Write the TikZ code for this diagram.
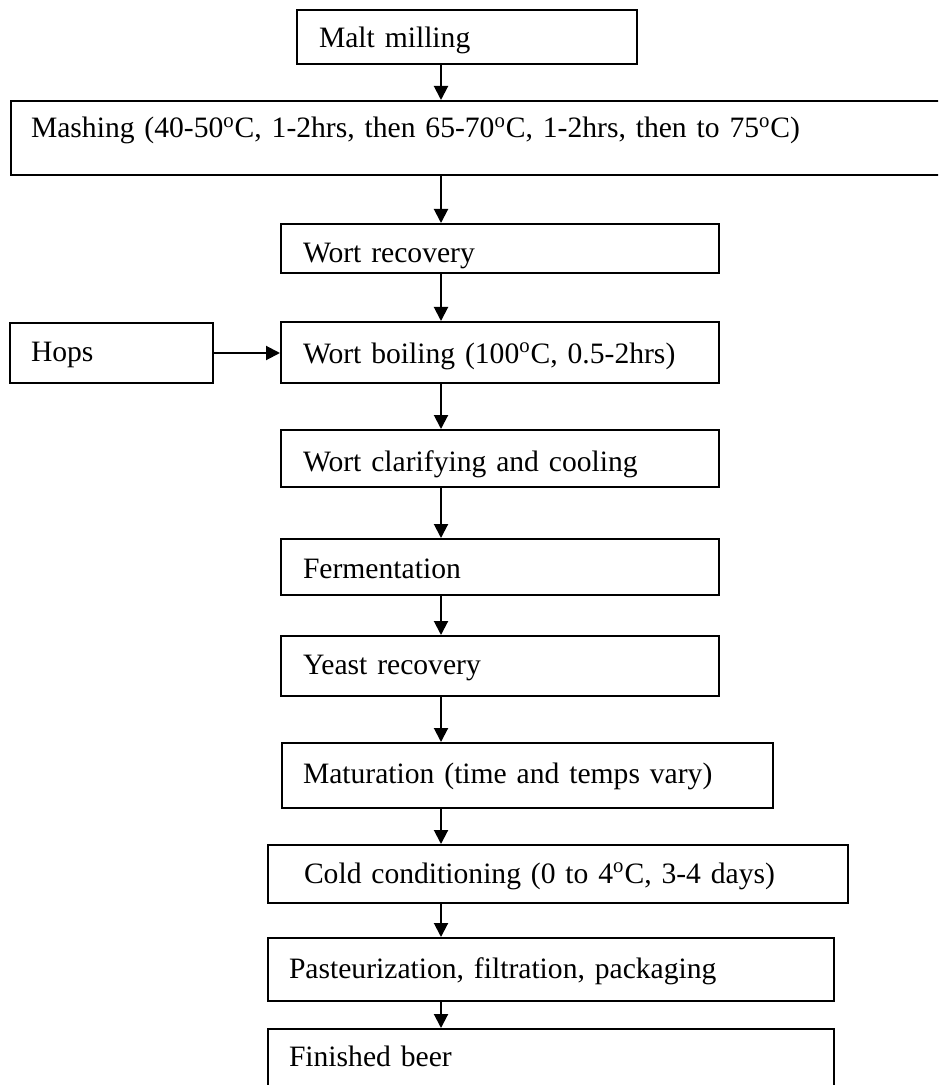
\documentclass[tikz,border=0pt]{standalone}
\usepackage{fontspec}
\setmainfont{Liberation Serif}
\usetikzlibrary{positioning, arrows.meta}
\tikzset{
  % process step = plain box, text set left and high
  stage/.style={draw, line width=1pt, anchor=north west, align=left,
                inner xsep=11pt, inner ysep=0pt,
                font=\fontsize{14.8}{17}\selectfont},
  % downward flow arrow
  flow/.style={-{Triangle[length=7pt,width=7pt]}, line width=1pt},
}
\newcommand{\degC}{\textsuperscript{o}C}

\begin{document}
\begin{tikzpicture}[x=0.5pt, y=-0.5pt]
  \path[use as bounding box, clip] (0,0) rectangle (938,1085);
  \coordinate (spine) at (441,0);
  % steps
  \node[stage, text width=148pt, text height=19pt, text depth=8pt]
    (malt) at (296,9) {Malt milling};
  \node[stage, inner xsep=10pt, text width=480pt, text height=18.5pt, text depth=18.5pt]
    (mash) at (10,100) {Mashing (40-50\degC, 1-2hrs, then 65-70\degC, 1-2hrs, then to 75\degC)};
  \node[stage, text width=197pt, text height=19.5pt, text depth=5pt]
    (recov) at (280,223) {Wort recovery};
  \node[stage, text width=197pt, text height=20.5pt, text depth=10pt]
    (boil) at (280,321) {Wort boiling (100\degC, 0.5-2hrs)};
  \node[stage, inner xsep=10.5pt, text width=80.5pt, text height=19pt, text depth=11pt]
    (hops) at (9,322) {Hops};
  \node[stage, text width=197pt, text height=20.5pt, text depth=8pt]
    (clarif) at (280,429) {Wort clarifying and cooling};
  \node[stage, text width=197pt, text height=19.5pt, text depth=8.5pt]
    (ferm) at (280,538) {Fermentation};
  \node[stage, text width=197pt, text height=19pt, text depth=11pt]
    (yeast) at (280,635) {Yeast recovery};
  \node[stage, inner xsep=10.5pt, text width=224.5pt, text height=20pt, text depth=12.5pt]
    (matur) at (281,742) {Maturation (time and temps vary)};
  \node[stage, inner xsep=18pt, text width=254pt, text height=19pt, text depth=10pt]
    (cold) at (267,844) {Cold conditioning (0 to 4\degC, 3-4 days)};
  \node[stage, inner xsep=10.5pt, text width=262pt, text height=20pt, text depth=11.5pt]
    (past) at (267,937) {Pasteurization, filtration, packaging};
  \node[stage, inner xsep=10.5pt, text width=262pt, text height=18.5pt, text depth=18pt]
    (beer) at (267,1028) {Finished beer};
  % main line
  \foreach \a/\b in {malt/mash, mash/recov, recov/boil, boil/clarif, clarif/ferm,
                     ferm/yeast, yeast/matur, matur/cold, cold/past, past/beer}
    \draw[flow] (\a.south -| spine) -- (\b.north -| spine);
  % hops go in at the boil
  \draw[flow] (hops.east) -- (hops.east -| boil.west);
\end{tikzpicture}
\end{document}
